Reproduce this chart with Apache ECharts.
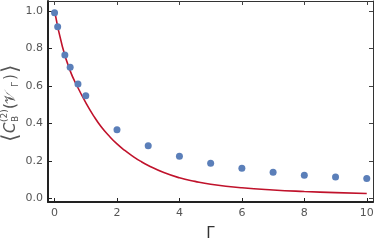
<!DOCTYPE html>
<html>
<head>
<meta charset="utf-8">
<script src="https://cdn.jsdelivr.net/npm/echarts@6/dist/echarts.min.js"></script>
<style>
  html, body { margin: 0; padding: 0; background: #fff; }
  #chart { width: 374px; height: 244px; }
</style>
</head>
<body>
<div id="chart"></div>
<script>
// Simulated points (blue dots)
const gammaPts = [0, 0.1, 0.33, 0.5, 0.75, 1, 2, 3, 4, 5, 6, 7, 8, 9, 10];
const corrPts = [0.99, 0.915, 0.765, 0.70, 0.61, 0.547, 0.366, 0.28, 0.224, 0.187, 0.16, 0.139, 0.123, 0.114, 0.105];

// Analytic curve (red line)
const fitGamma = [0, 0.25, 0.5, 0.75, 1, 1.25, 1.5, 1.75, 2, 2.25, 2.5, 2.75, 3, 3.5, 4, 4.5, 5, 6, 7, 8, 9, 10];
const fitCorr = [1.0, 0.81, 0.68, 0.59, 0.51, 0.44, 0.38, 0.332, 0.29, 0.255, 0.225, 0.198, 0.175, 0.137, 0.109, 0.09, 0.075, 0.056, 0.044, 0.036, 0.030, 0.025];

// Tick labels
const xTicks = [0, 2, 4, 6, 8, 10];
const yTicks = [0, 0.2, 0.4, 0.6, 0.8, 1.0];

const labelColor = '#555';
const fontFamily = 'DejaVu Sans';

const chart = echarts.init(document.getElementById('chart'));

// Shared axis styling
const frameAxis = (extra) => Object.assign({
  type: 'value',
  axisLine: { show: true, onZero: false, lineStyle: { color: '#333', width: 1 } },
  axisTick: { show: true, inside: true, length: 4, lineStyle: { color: '#333' } },
  splitLine: { show: false },
}, extra);

// y title pieces: <C_B^(2)(V_Γ)>
const titleParts = [
  { t: '\u27E8', x: 0, y: 0, size: 22 },
  { t: 'C', x: 9, y: 0, size: 15, italic: true },
  { t: '(2)', x: 20, y: -6, size: 9 },
  { t: 'B', x: 20, y: 5, size: 9 },
  { t: '(', x: 33, y: 0, size: 15 },
  { t: '\uD835\uDCB1', x: 38, y: 0, size: 15 },
  { t: '\u0393', x: 55, y: 5, size: 9 },
  { t: ')', x: 62, y: 0, size: 15 },
  { t: '\u27E9', x: 69, y: 0, size: 22 },
];

const option = {
  animation: false,
  grid: { left: 48, right: 1, top: 1, bottom: 42, containLabel: false, outerBoundsMode: 'none' },
  xAxis: [
    frameAxis({
      min: -0.21, max: 10.2,
      position: 'bottom',
      axisLine: { show: true, onZero: false, lineStyle: { color: '#222', width: 2 } },
      axisTick: { show: true, inside: true, length: 4, customValues: xTicks, lineStyle: { color: '#222' } },
      axisLabel: { customValues: xTicks, color: labelColor, fontSize: 11, fontFamily, margin: 6 },
      name: '\u0393',
      nameLocation: 'middle',
      nameGap: 25,
      nameTextStyle: { color: '#333', fontSize: 15, fontFamily },
    }),
    frameAxis({
      min: -0.21, max: 10.2,
      position: 'top',
      axisTick: { show: true, inside: true, length: 4, customValues: xTicks, lineStyle: { color: '#444' } },
      axisLabel: { show: false },
    }),
  ],
  yAxis: [
    frameAxis({
      min: -0.02, max: 1.053,
      position: 'left',
      axisLine: { show: true, onZero: false, lineStyle: { color: '#222', width: 2 } },
      axisTick: { show: true, inside: true, length: 4, customValues: yTicks, lineStyle: { color: '#222' } },
      axisLabel: {
        customValues: yTicks, color: labelColor, fontSize: 11, fontFamily, margin: 5,
        formatter: (v) => v.toFixed(1),
      },
    }),
    frameAxis({
      min: -0.02, max: 1.053,
      position: 'right',
      axisTick: { show: true, inside: true, length: 4, customValues: yTicks, lineStyle: { color: '#444' } },
      axisLabel: { show: false },
    }),
  ],
  graphic: [{
    type: 'group',
    x: 11, y: 142,
    rotation: Math.PI / 2,
    children: titleParts.map(p => ({
      type: 'text',
      x: p.x, y: p.y,
      style: {
        text: p.t,
        fontSize: p.size,
        fontStyle: p.italic ? 'italic' : 'normal',
        fontFamily,
        fill: labelColor,
        verticalAlign: 'middle',
        align: 'left',
      },
    })),
  }],
  series: [
    {
      type: 'line',
      data: fitGamma.map((g, i) => [g, fitCorr[i]]),
      smooth: true,
      showSymbol: false,
      lineStyle: { color: '#c0122b', width: 1.6 },
      z: 2,
    },
    {
      type: 'scatter',
      data: gammaPts.map((g, i) => [g, corrPts[i]]),
      symbolSize: 7,
      itemStyle: { color: '#5b7fb9', opacity: 1 },
      z: 3,
    },
  ],
};

chart.setOption(option);
</script>
</body>
</html>
